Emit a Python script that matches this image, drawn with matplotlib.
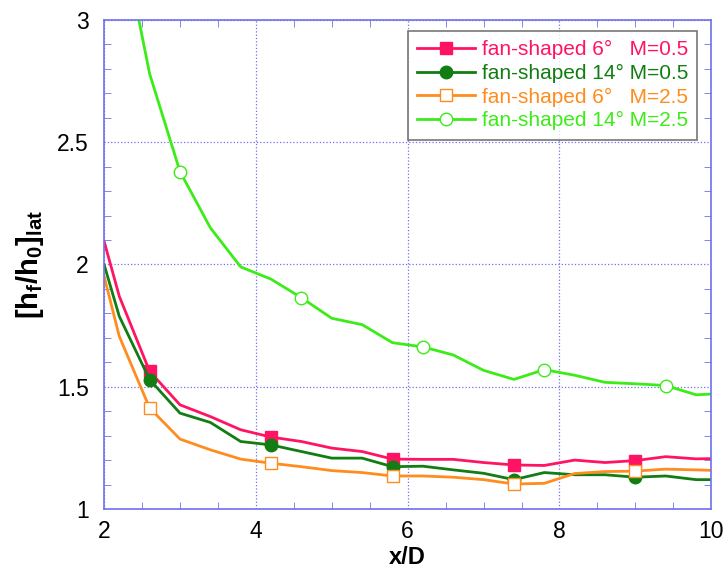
import matplotlib.pyplot as plt
from matplotlib.ticker import MultipleLocator

plt.rcParams['font.family'] = ['Liberation Sans', 'DejaVu Sans']
plt.rcParams['mathtext.fontset'] = 'custom'
plt.rcParams['mathtext.rm'] = 'Liberation Sans'
plt.rcParams['mathtext.bf'] = 'Liberation Sans:bold'

# x/D stations
x = [2.0, 2.2, 2.6, 3.0, 3.4, 3.8, 4.2, 4.6, 5.0, 5.4, 5.8, 6.2, 6.6, 7.0,
     7.4, 7.8, 8.2, 8.6, 9.0, 9.4, 9.8, 10.0]

fan6_m05 = [2.095, 1.87, 1.563, 1.426, 1.378, 1.324, 1.294, 1.276, 1.249, 1.235,
            1.204, 1.203, 1.203, 1.19, 1.18, 1.178, 1.20, 1.19, 1.198, 1.214,
            1.205, 1.206]
fan14_m05 = [2.0, 1.788, 1.529, 1.392, 1.354, 1.276, 1.262, 1.235, 1.208, 1.208,
             1.173, 1.175, 1.16, 1.146, 1.12, 1.149, 1.14, 1.14, 1.13, 1.135,
             1.12, 1.12]
fan6_m25 = [1.952, 1.706, 1.413, 1.286, 1.242, 1.204, 1.187, 1.173, 1.157, 1.149,
            1.135, 1.135, 1.13, 1.12, 1.102, 1.105, 1.145, 1.153, 1.155, 1.163,
            1.16, 1.158]
fan14_m25 = [3.7, 3.4, 2.78, 2.38, 2.15, 1.99, 1.94, 1.864, 1.78, 1.754,
             1.68, 1.663, 1.63, 1.567, 1.53, 1.57, 1.547, 1.518, 1.512, 1.505,
             1.467, 1.47]

labels = ['fan-shaped 6\u00b0   M=0.5', 'fan-shaped 14\u00b0 M=0.5',
          'fan-shaped 6\u00b0   M=2.5', 'fan-shaped 14\u00b0 M=2.5']
colors = ['#ff1464', '#127d12', '#ff8c1e', '#3cec18']

fig = plt.figure(figsize=(7.28, 5.71), dpi=100)
ax = fig.add_axes([0.143, 0.1086, 0.834, 0.8564])

ax.plot(x, fan6_m05, color=colors[0], lw=2.0, marker='s', ms=9,
        markevery=[2, 6, 10, 14, 18], label=labels[0])
ax.plot(x, fan14_m05, color=colors[1], lw=2.0, marker='o', ms=9,
        markevery=[2, 6, 10, 14, 18], label=labels[1])
ax.plot(x, fan6_m25, color=colors[2], lw=2.0, marker='s', ms=9, mfc='white',
        mew=1.0, markevery=[2, 6, 10, 14, 18], label=labels[2])
ax.plot(x, fan14_m25, color=colors[3], lw=2.0, marker='o', ms=9, mfc='white',
        mew=1.0, markevery=[3, 7, 11, 15, 19], label=labels[3])

ax.set_xlim(2, 10)
ax.set_ylim(1, 3)
ax.xaxis.set_major_locator(MultipleLocator(2))
ax.xaxis.set_minor_locator(MultipleLocator(0.5))
ax.yaxis.set_major_locator(MultipleLocator(0.5))
ax.yaxis.set_minor_locator(MultipleLocator(0.1))
ax.set_yticks([1, 1.5, 2, 2.5, 3])
ax.set_yticklabels(['1', '1.5', '2', '2.5', '3'])

blue = '#7070ee'
for s in ax.spines.values():
    s.set_color(blue)
    s.set_linewidth(1.2)
ax.tick_params(which='both', direction='in', top=True, right=True, color=blue,
               labelsize=16.5)
ax.tick_params(which='major', length=0)
ax.tick_params(axis='y', which='major', pad=11)
ax.tick_params(axis='x', which='major', pad=8)
ax.tick_params(which='minor', length=5)
ax.grid(True, which='major', color=blue, ls=':', lw=0.9)

ax.set_xlabel('x/D', fontsize=17, fontweight='bold', labelpad=2)
ax.set_ylabel(r'$\mathbf{[h_f/h_0]_{lat}}$', fontsize=21, labelpad=8)

leg = ax.legend(loc='upper right', bbox_to_anchor=(0.977, 0.9775), fontsize=15,
                frameon=True, fancybox=False, edgecolor='#555555',
                handlelength=2.8, borderpad=0.45, labelspacing=0.22,
                handletextpad=0.3, borderaxespad=0)
leg.get_frame().set_linewidth(1.2)
for t, c in zip(leg.get_texts(), colors):
    t.set_color(c)

fig.savefig('out.png', dpi=100)
